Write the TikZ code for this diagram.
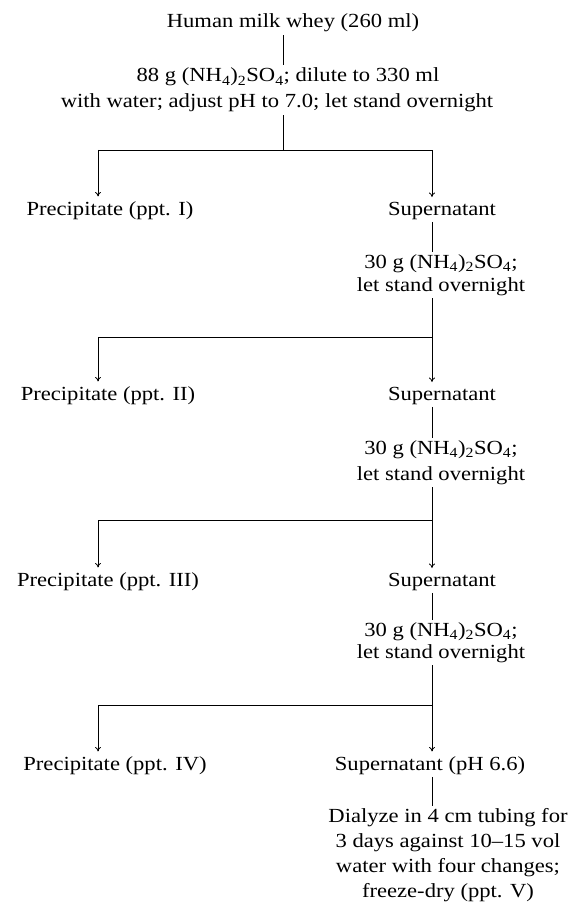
\documentclass[tikz,border=0pt]{standalone}
\usepackage{fontspec}
\setmainfont{Liberation Serif}[FakeStretch=1.13]
\usetikzlibrary{arrows.meta}
\begin{document}
\begin{tikzpicture}[x=1pt,y=-1pt,
  txt/.style={inner sep=2.5pt,font=\fontsize{20}{24}\selectfont},
  lbl/.style={txt,anchor=base},
  blk/.style={txt,anchor=north,align=center},
  conn/.style={line width=0.8pt},
  arr/.style={conn,-{To[length=4.5pt,width=6pt]},shorten >=2pt}]
\useasboundingbox (0,0) rectangle (568,909);
\coordinate (C) at (283,0);
\coordinate (L) at (98,0);
\coordinate (R) at (432,0);
\coordinate (j1) at (0,150);
\coordinate (j2) at (0,337);
\coordinate (j3) at (0,520);
\coordinate (j4) at (0,705);

\node[lbl] (t1) at (293,28) {Human milk whey (260 ml)};
\node[lbl] (t2) at (288,82) {88 g (NH\textsubscript{4})\textsubscript{2}SO\textsubscript{4}; dilute to 330 ml};
\node[lbl] (t3) at (277,108) {with water; adjust pH to 7.0; let stand overnight};

\node[lbl] (p1) at (110,215) {Precipitate (ppt. I)};
\node[lbl] (s1) at (442,215) {Supernatant};
\node[blk,font=\fontsize{20}{23}\selectfont] (c1) at (441,251.5) {30 g (NH\textsubscript{4})\textsubscript{2}SO\textsubscript{4};\\let stand overnight};

\node[lbl] (p2) at (108,400) {Precipitate (ppt. II)};
\node[lbl] (s2) at (442,400) {Supernatant};
\node[blk,font=\fontsize{20}{26}\selectfont] (c2) at (441,437.5) {30 g (NH\textsubscript{4})\textsubscript{2}SO\textsubscript{4};\\let stand overnight};

\node[lbl] (p3) at (108,586) {Precipitate (ppt. III)};
\node[lbl] (s3) at (442,586) {Supernatant};
\node[blk,font=\fontsize{20}{22}\selectfont] (c3) at (441,619.5) {30 g (NH\textsubscript{4})\textsubscript{2}SO\textsubscript{4};\\let stand overnight};

\node[lbl] (p4) at (115,770) {Precipitate (ppt. IV)};
\node[lbl] (s4) at (430,770) {Supernatant (pH 6.6)};
\node[blk,font=\fontsize{20}{25}\selectfont] (d) at (448,805.5) {Dialyze in 4 cm tubing for\\3 days against 10--15 vol\\water with four changes;\\freeze-dry (ppt. V)};

\draw[conn] (C |- t1.south) -- (C |- t2.north);
\draw[conn] (C |- t3.south) -- (C |- j1);
\draw[arr] (L |- j1) -- (L |- p1.north);
\draw[arr] (L |- j1) -- (R |- j1) -- (R |- s1.north);

\draw[conn] (R |- s1.south) -- (R |- c1.north);
\draw[arr] (R |- c1.south) -- (R |- s2.north);
\draw[arr] (R |- j2) -- (L |- j2) -- (L |- p2.north);

\draw[conn] (R |- s2.south) -- (R |- c2.north);
\draw[arr] (R |- c2.south) -- (R |- s3.north);
\draw[arr] (R |- j3) -- (L |- j3) -- (L |- p3.north);

\draw[conn] (R |- s3.south) -- (R |- c3.north);
\draw[arr] (R |- c3.south) -- (R |- s4.north);
\draw[arr] (R |- j4) -- (L |- j4) -- (L |- p4.north);

\draw[conn] (R |- s4.south) -- (R |- d.north);
\end{tikzpicture}
\end{document}
